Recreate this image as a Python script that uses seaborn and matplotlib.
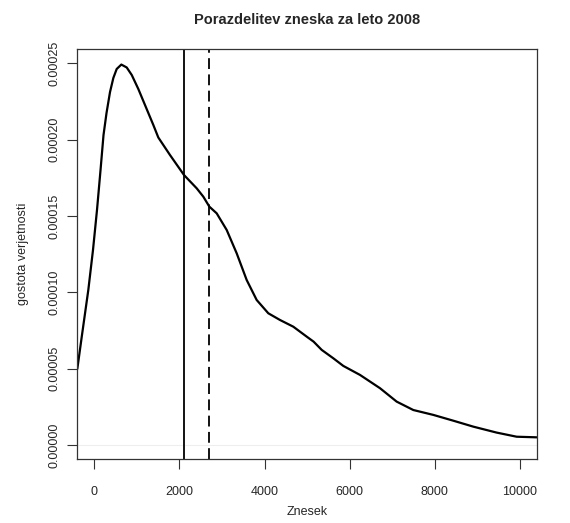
import numpy as np
import pandas as pd
import matplotlib
matplotlib.use("Agg")
import matplotlib.pyplot as plt
import seaborn as sns

# Density curve
znesek = [-400, -296, -141, -31, 63, 146, 216, 287, 369, 447, 526, 635, 761, 879,
          1034, 1191, 1387, 1504, 1779, 2108, 2406, 2562, 2703, 2876, 3111, 3346,
          3581, 3816, 4089, 4364, 4677, 4991, 5154, 5344, 5617, 5852, 6244, 6714,
          7106, 7497, 7967, 8437, 8907, 9456, 9926, 10397]
gostota = [4.98e-5, 7.08e-5, 1.016e-4, 1.278e-4, 1.540e-4, 1.802e-4, 2.031e-4,
           2.176e-4, 2.313e-4, 2.405e-4, 2.464e-4, 2.493e-4, 2.474e-4, 2.425e-4,
           2.333e-4, 2.228e-4, 2.097e-4, 2.015e-4, 1.900e-4, 1.769e-4, 1.682e-4,
           1.627e-4, 1.562e-4, 1.518e-4, 1.409e-4, 1.256e-4, 1.081e-4, 9.50e-5,
           8.63e-5, 8.19e-5, 7.75e-5, 7.10e-5, 6.77e-5, 6.23e-5, 5.68e-5, 5.18e-5,
           4.59e-5, 3.72e-5, 2.84e-5, 2.29e-5, 1.97e-5, 1.59e-5, 1.20e-5, 8.1e-6,
           5.4e-6, 5.0e-6]
mediana = 2108
povprecje = 2703

x_ticks = [0, 2000, 4000, 6000, 8000, 10000]
y_ticks = [0.0, 0.00005, 0.00010, 0.00015, 0.00020, 0.00025]
y_ticklabels = ["0.00000", "0.00005", "0.00010", "0.00015", "0.00020", "0.00025"]

title = "Porazdelitev zneska za leto 2008"
xlabel = "Znesek"
ylabel = "gostota verjetnosti"

sns.set_style("white")
plt.rcParams["font.family"] = ["Liberation Sans", "DejaVu Sans"]

fig = plt.figure(figsize=(5.70, 5.23), dpi=100)
ax = fig.add_axes([77.3 / 570, 1 - 459.3 / 523, (536.7 - 77.3) / 570, (459.3 - 49.3) / 523])

df = pd.DataFrame({"x": znesek, "y": gostota})
ax.axhline(0, color="#eeeeee", lw=0.8, zorder=0)
sns.lineplot(data=df, x="x", y="y", ax=ax, color="black", lw=1.6, sort=False,
             solid_joinstyle="round", solid_capstyle="round")
ax.axvline(mediana, color="black", lw=1.3)
ax.axvline(povprecje, color="black", lw=1.3, linestyle=(0, (6, 3)))

ax.set_xlim(-400, 10397)
ax.set_ylim(-9.4e-6, 2.593e-4)
ax.set_xticks(x_ticks)
ax.set_xticklabels([str(t) for t in x_ticks], fontsize=9)
ax.set_yticks(y_ticks)
ax.set_yticklabels(y_ticklabels, fontsize=9, rotation=90, va="center")

ax.tick_params(axis="x", direction="out", length=7, width=0.8, color="#333333",
               bottom=True, pad=12)
ax.tick_params(axis="y", direction="out", length=7, width=0.8, color="#333333",
               left=True, pad=5)
for s in ax.spines.values():
    s.set_color("#333333")
    s.set_linewidth(0.9)
    s.set_visible(True)

ax.set_xlabel(xlabel, fontsize=9, labelpad=6)
ax.set_ylabel(ylabel, fontsize=9, labelpad=14)
fig.text(0.5 * (77.3 + 536.7) / 570, 1 - 20 / 523, title, ha="center", va="center",
         fontsize=10.5, fontweight="bold")

fig.savefig("out.png", dpi=100, facecolor="white")
